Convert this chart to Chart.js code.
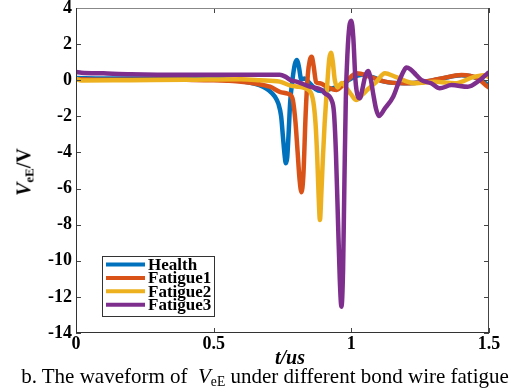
<!DOCTYPE html>
<html>
<head>
<meta charset="utf-8">
<script src="https://cdn.jsdelivr.net/npm/chart.js@4"></script>
<style>
  body { margin: 0; background: #fff; }
  #wrap { position: relative; width: 518px; height: 392px; font-family: "Liberation Serif", "Times New Roman", serif; }
  #ytitle { position: absolute; left: 24px; top: 172px; transform: translate(-50%, -50%) rotate(-90deg); font-weight: bold; font-size: 20px; white-space: nowrap; color: #000; }
  #xtitle { position: absolute; left: 290px; top: 357px; transform: translate(-50%, -50%); font-weight: bold; font-style: italic; font-size: 20px; color: #000; }
  #caption { position: absolute; left: 265px; top: 376px; transform: translate(-50%, -50%); font-size: 21px; white-space: nowrap; color: #000; }
  sub { font-size: 65%; vertical-align: -0.25em; line-height: 0; }
</style>
</head>
<body>
<div id="wrap">
  <canvas id="veChart" width="518" height="392"></canvas>
  <div id="ytitle"><i>V</i><sub>eE</sub>/V</div>
  <div id="xtitle">t/us</div>
  <div id="caption">b. The waveform of &nbsp;<i>V</i><sub>eE</sub> under different bond wire fatigue</div>
</div>
<script>
// Données (t en us, V en volts)
const seriesNames = ['Health', 'Fatigue1', 'Fatigue2', 'Fatigue3'];
const seriesColors = ['#0072BD', '#D95319', '#EDB120', '#7E2F8E'];

const healthT = [0, 0.1, 0.2, 0.3, 0.4, 0.5, 0.56, 0.613, 0.65, 0.679, 0.7, 0.722, 0.735, 0.745, 0.752, 0.758, 0.762, 0.767, 0.772, 0.778, 0.786, 0.795, 0.803, 0.81, 0.818, 0.83, 0.845, 0.87, 0.89, 0.92, 0.96, 1.0, 1.04, 1.08, 1.12, 1.19, 1.27, 1.33, 1.4, 1.46, 1.5];
const healthV = [0.12, 0.1, 0.1, 0.1, 0.1, 0.08, 0.02, -0.08, -0.2, -0.36, -0.55, -0.9, -1.3, -2.0, -3.2, -4.2, -4.6, -4.3, -3.0, -1.2, 0.0, 0.9, 1.12, 0.7, 0.05, 0.1, -0.1, -0.5, -0.6, -0.5, -0.3, 0.1, 0.3, 0.15, -0.08, -0.17, -0.08, 0.1, 0.28, 0.1, -0.3];

const fatigue1T = [0, 0.1, 0.2, 0.3, 0.4, 0.5, 0.55, 0.6, 0.65, 0.704, 0.74, 0.77, 0.786, 0.797, 0.805, 0.812, 0.819, 0.826, 0.834, 0.842, 0.849, 0.856, 0.863, 0.872, 0.886, 0.915, 0.946, 0.98, 1.019, 1.067, 1.122, 1.194, 1.267, 1.327, 1.4, 1.459, 1.495, 1.5];
const fatigue1V = [0.05, 0.03, 0.03, 0.03, 0.02, 0.0, -0.03, -0.08, -0.18, -0.36, -0.64, -0.75, -1.0, -2.3, -4.0, -5.5, -6.2, -5.2, -1.9, 0.3, 1.1, 1.3, 0.8, -0.1, -0.17, -0.4, -0.54, -0.1, 0.38, 0.2, -0.08, -0.17, -0.08, 0.1, 0.29, 0.1, -0.36, -0.4];

const fatigue2T = [0, 0.02, 0.2, 0.4, 0.6, 0.668, 0.74, 0.78, 0.8, 0.849, 0.862, 0.87, 0.876, 0.881, 0.886, 0.891, 0.897, 0.903, 0.909, 0.915, 0.92, 0.926, 0.932, 0.94, 0.95, 0.965, 0.985, 1.0, 1.018, 1.04, 1.06, 1.09, 1.122, 1.158, 1.23, 1.303, 1.376, 1.448, 1.495, 1.5];
const fatigue2V = [0.07, -0.02, 0.0, 0.02, 0.05, 0.0, -0.08, -0.3, -0.35, -0.6, -1.2, -2.4, -4.2, -6.3, -7.74, -6.3, -4.2, -2.4, -1.0, 0.3, 1.2, 1.52, 1.1, 0.0, -0.4, -0.15, -0.5, -0.8, -1.1, -0.8, -0.5, -0.1, 0.38, 0.2, -0.17, -0.08, -0.17, 0.2, 0.29, 0.1];

const fatigue3T = [0, 0.02, 0.1, 0.2, 0.4, 0.6, 0.74, 0.76, 0.78, 0.801, 0.849, 0.892, 0.904, 0.928, 0.937, 0.944, 0.951, 0.958, 0.964, 0.97, 0.975, 0.98, 0.986, 0.993, 1.0, 1.007, 1.015, 1.024, 1.031, 1.04, 1.05, 1.061, 1.07, 1.08, 1.09, 1.1, 1.122, 1.152, 1.17, 1.19, 1.2, 1.215, 1.235, 1.255, 1.29, 1.321, 1.364, 1.423, 1.466, 1.495, 1.5];
const fatigue3V = [0.45, 0.42, 0.38, 0.33, 0.3, 0.3, 0.3, 0.2, 0.0, -0.08, -0.35, -0.54, -0.73, -1.1, -1.8, -4.0, -7.5, -11.0, -12.54, -10.5, -5.5, -1.0, 1.5, 3.0, 3.3, 2.4, 0.0, -0.9, -1.0, -0.5, 0.2, 0.51, 0.1, -0.8, -1.6, -1.98, -1.56, -0.91, -0.2, 0.5, 0.7, 0.6, 0.3, 0.0, -0.17, -0.45, -0.27, -0.36, 0.0, 0.38, 0.45];

const xTicks = [0, 0.5, 1, 1.5];
const xTickLabels = ['0', '0.5', '1', '1.5'];
const yTicks = [4, 2, 0, -2, -4, -6, -8, -10, -12, -14];

const allT = [healthT, fatigue1T, fatigue2T, fatigue3T];
const allV = [healthV, fatigue1V, fatigue2V, fatigue3V];

// Cadre, graduations vers l'intérieur et légende façon MATLAB
const cadre = {
    id: 'cadre',
    afterDatasetsDraw(chart) {
        const { ctx, chartArea: a, scales: { x, y } } = chart;
        ctx.save();
        ctx.lineWidth = 1;
        ctx.strokeStyle = '#444';
        const seg = (x1, y1, x2, y2) => { ctx.beginPath(); ctx.moveTo(x1, y1); ctx.lineTo(x2, y2); ctx.stroke(); };
        xTicks.forEach(v => {
            const px = Math.round(x.getPixelForValue(v)) + 0.5;
            seg(px, a.bottom, px, a.bottom - 5);
            seg(px, a.top, px, a.top + 5);
        });
        yTicks.forEach(v => {
            const py = Math.round(y.getPixelForValue(v)) + 0.5;
            seg(a.left, py, a.left + 5, py);
            seg(a.right, py, a.right - 5, py);
        });
        ctx.strokeStyle = '#888';
        seg(a.left, a.top + 0.5, a.right, a.top + 0.5);
        ctx.strokeStyle = '#444';
        seg(a.right - 0.5, a.top, a.right - 0.5, a.bottom);
        ctx.strokeStyle = '#333';
        seg(a.left + 0.5, a.top, a.left + 0.5, a.bottom);
        seg(a.left, a.bottom - 0.5, a.right, a.bottom - 0.5);

        // légende
        const lx = a.left + 26, ly = a.top + 248, lw = 112, lh = 60;
        ctx.fillStyle = '#fff';
        ctx.fillRect(lx, ly, lw, lh);
        ctx.strokeStyle = '#333';
        ctx.lineWidth = 1;
        ctx.strokeRect(lx + 0.5, ly + 0.5, lw, lh);
        ctx.font = 'bold 17px "Liberation Serif"';
        ctx.textBaseline = 'middle';
        seriesNames.forEach((name, i) => {
            const yy = ly + 8.5 + i * 13.4;
            ctx.strokeStyle = seriesColors[i];
            ctx.lineWidth = 4;
            seg(lx + 4, yy, lx + 43, yy);
            ctx.fillStyle = '#000';
            ctx.fillText(name, lx + 46, yy + 1);
        });
        ctx.restore();
    }
};

const ctx = document.getElementById('veChart').getContext('2d');
new Chart(ctx, {
    type: 'line',
    data: {
        datasets: seriesNames.map((name, i) => ({
            label: name,
            data: allT[i].map((t, k) => ({ x: t, y: allV[i][k] })),
            borderColor: seriesColors[i],
            borderWidth: 4.5,
            pointRadius: 0,
            cubicInterpolationMode: 'monotone',
            order: 3 - i
        }))
    },
    options: {
        responsive: false,
        animation: false,
        layout: { padding: { top: 8, right: 29, bottom: 0, left: 0 } },
        plugins: { legend: { display: false }, tooltip: { enabled: false } },
        scales: {
            x: {
                type: 'linear',
                min: 0,
                max: 1.5,
                afterBuildTicks: s => { s.ticks = xTicks.map(v => ({ value: v })); },
                afterFit: s => { s.height = 59; s.paddingLeft = 0; s.paddingRight = 0; },
                grid: { display: false, drawTicks: false },
                border: { display: false },
                ticks: {
                    color: '#000', padding: 1, maxRotation: 0,
                    callback: (v, i) => xTickLabels[i],
                    font: { family: 'Liberation Serif', weight: 'bold', size: 18 }
                }
            },
            y: {
                min: -14,
                max: 4,
                afterBuildTicks: s => { s.ticks = yTicks.map(v => ({ value: v })); },
                afterFit: s => { s.width = 76; s.paddingTop = 0; s.paddingBottom = 0; },
                grid: { display: false, drawTicks: false },
                border: { display: false },
                ticks: { color: '#000', padding: 4, font: { family: 'Liberation Serif', weight: 'bold', size: 18 } }
            }
        }
    },
    plugins: [cadre]
});
</script>
</body>
</html>
